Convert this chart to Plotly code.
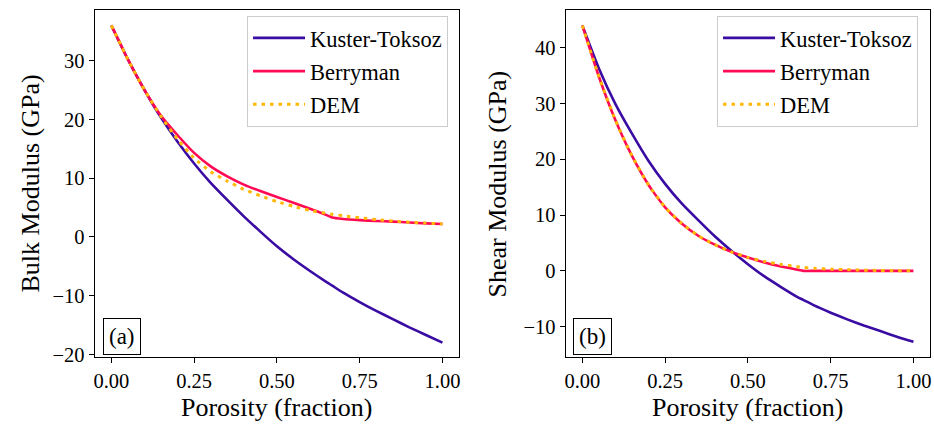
import plotly.graph_objects as go

# Porosity grid (fraction); 0.667 marks the critical-porosity kink
porosity = [0.00, 0.05, 0.10, 0.15, 0.20, 0.25, 0.30, 0.35, 0.40, 0.45, 0.50,
            0.55, 0.60, 0.65, 0.667, 0.70, 0.75, 0.80, 0.85, 0.90, 0.95, 1.00]

# Bulk modulus (GPa)
bulk_kt = [36.0, 30.2, 25.0, 20.3, 16.2, 12.5, 9.2, 6.3, 3.5, 0.9, -1.6,
           -3.8, -5.8, -7.7, -8.3, -9.5, -11.1, -12.6, -14.0, -15.4, -16.7, -18.0]
bulk_berryman = [36.0, 30.2, 25.0, 20.6, 17.3, 14.3, 12.0, 10.3, 8.9, 7.8, 6.8,
                 5.8, 4.8, 3.7, 3.3, 3.05, 2.85, 2.7, 2.6, 2.45, 2.3, 2.2]
bulk_dem = [36.0, 30.2, 25.0, 20.5, 16.6, 13.4, 11.1, 9.5, 8.1, 7.0, 6.0,
            5.2, 4.5, 4.0, 3.85, 3.6, 3.25, 2.95, 2.7, 2.5, 2.35, 2.2]

# Shear modulus (GPa)
shear_kt = [44.0, 36.3, 29.9, 24.6, 19.7, 15.6, 12.1, 9.1, 6.2, 3.6, 1.2,
            -1.0, -2.9, -4.7, -5.2, -6.2, -7.5, -8.7, -9.8, -10.8, -11.8, -12.7]
shear_berryman = [44.0, 34.8, 27.0, 20.6, 15.4, 11.4, 8.5, 6.3, 4.7, 3.4, 2.4,
                  1.5, 0.8, 0.2, 0.0, 0.0, 0.0, 0.0, 0.0, 0.0, 0.0, 0.0]
shear_dem = [44.0, 34.8, 27.0, 20.6, 15.4, 11.4, 8.5, 6.3, 4.7, 3.4, 2.4,
             1.7, 1.15, 0.75, 0.62, 0.45, 0.3, 0.2, 0.12, 0.07, 0.03, 0.0]

model_names = ["Kuster-Toksoz", "Berryman", "DEM"]
x_ticks = [0.0, 0.25, 0.5, 0.75, 1.0]

W, H = 934, 436
FONT = "Liberation Serif, Times New Roman, serif"
colors = ["#3a0ca3", "#ff0a54", "#ffb703"]
dashes = ["solid", "solid", "3.5px,5px"]
widths = [2.6, 2.6, 3.0]

fig = go.Figure()

panels = [
    ("x", "y", "legend", [bulk_kt, bulk_berryman, bulk_dem]),
    ("x2", "y2", "legend2", [shear_kt, shear_berryman, shear_dem]),
]
for xa, ya, leg, series in panels:
    for i, (name, vals) in enumerate(zip(model_names, series)):
        fig.add_trace(go.Scatter(
            x=porosity, y=vals, name=name, mode="lines",
            xaxis=xa, yaxis=ya, legend=leg, legendgroup=f"{leg}{i}",
            line=dict(color=colors[i], width=widths[i], dash=dashes[i],
                      shape="spline", smoothing=0.5),
        ))

def px_x(p):
    return p / W

def px_y(p):
    return 1 - p / H

axis_common = dict(
    showline=True, mirror=True, linecolor="black", linewidth=1.2,
    ticks="outside", ticklen=5, tickwidth=1.2, tickcolor="black",
    showgrid=False, zeroline=False,
    tickfont=dict(family=FONT, size=20.5, color="black"),
)

legend_common = dict(
    xanchor="right", y=px_y(16), yanchor="top",
    bgcolor="white", bordercolor="#cccccc", borderwidth=1,
    font=dict(family=FONT, size=22.5, color="black"),
    tracegroupgap=1, itemwidth=52,
)

ydom = [px_y(364), px_y(10)]
fig.update_layout(
    width=W, height=H,
    margin=dict(l=0, r=0, t=0, b=0),
    paper_bgcolor="white", plot_bgcolor="white",
    font=dict(family=FONT, color="black"),
    xaxis=dict(domain=[px_x(94), px_x(459)], range=[-0.05, 1.05],
               tickvals=x_ticks, tickformat=".2f", anchor="y", **axis_common),
    yaxis=dict(domain=ydom, range=[-20.5, 38.65], dtick=10, anchor="x",
               **axis_common),
    xaxis2=dict(domain=[px_x(566), px_x(931)], range=[-0.05, 1.05],
                tickvals=x_ticks, tickformat=".2f", anchor="y2", **axis_common),
    yaxis2=dict(domain=ydom, range=[-15.5, 46.8], dtick=10, anchor="x2",
                **axis_common),
    legend=dict(x=px_x(448), **legend_common),
    legend2=dict(x=px_x(919), **legend_common),
    showlegend=True,
)

annotations = [
    dict(text="Porosity (fraction)", x=px_x(276.5), y=px_y(415), size=26),
    dict(text="Porosity (fraction)", x=px_x(748.5), y=px_y(415), size=26),
    dict(text="Bulk Modulus (GPa)", x=px_x(30), y=px_y(187), size=26,
         textangle=-90),
    dict(text="Shear Modulus (GPa)", x=px_x(498), y=px_y(187), size=26,
         textangle=-90),
    dict(text="(a)", x=px_x(121), y=px_y(343), size=23, box=True),
    dict(text="(b)", x=px_x(593), y=px_y(343), size=23, box=True),
]
for a in annotations:
    size = a.pop("size")
    box = a.pop("box", False)
    extra = dict(bordercolor="black", borderwidth=1, borderpad=5,
                 bgcolor="white") if box else {}
    fig.add_annotation(xref="paper", yref="paper", showarrow=False,
                       xanchor="center", yanchor="middle",
                       font=dict(family=FONT, size=size, color="black"),
                       **a, **extra)

fig.write_html("out.html")
